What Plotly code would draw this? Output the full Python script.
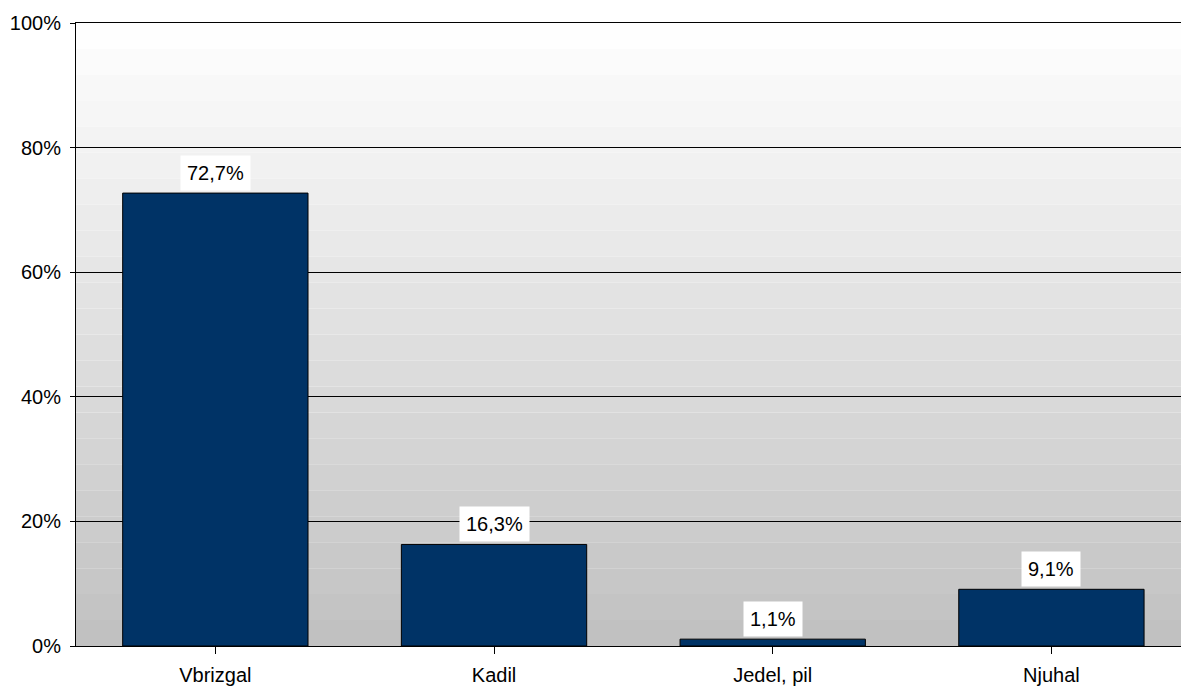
import plotly.graph_objects as go

categories = ["Vbrizgal", "Kadil", "Jedel, pil", "Njuhal"]
values = [72.7, 16.3, 1.1, 9.1]
y_ticks = [0, 20, 40, 60, 80, 100]

FONT = "Liberation Sans, Arial, sans-serif"

fig = go.Figure()
fig.add_trace(go.Bar(
    x=list(range(len(categories))),
    y=values,
    width=0.665,
    marker=dict(color="#003366", line=dict(color="#000000", width=1)),
    hoverinfo="skip",
))

# value labels with white boxes
for i, v in enumerate(values):
    fig.add_annotation(
        x=i, y=v, xref="x", yref="y",
        text=f"{v:.1f}%".replace(".", ","),
        showarrow=False, yanchor="bottom", yshift=2,
        bgcolor="#FFFFFF", borderpad=6,
        font=dict(family=FONT, size=20, color="#000000"),
    )

# banded gradient background (white at top to grey at bottom)
n_bands = 24
shapes = []
for k in range(n_bands):
    y0 = 100 * k / n_bands
    y1 = 100 * (k + 1) / n_bands
    t = (k + 0.5) / n_bands
    c = int(round(192 + (255 - 192) * t))
    shapes.append(dict(
        type="rect", xref="paper", yref="y", x0=0, x1=1, y0=y0, y1=y1,
        fillcolor=f"rgb({c},{c},{c})", line=dict(width=0), layer="below",
    ))

fig.update_layout(
    width=1181, height=689,
    margin=dict(l=76, r=0, t=23, b=43, autoexpand=False),
    paper_bgcolor="#FFFFFF",
    plot_bgcolor="#FFFFFF",
    showlegend=False,
    shapes=shapes,
    font=dict(family=FONT, size=20, color="#000000"),
    xaxis=dict(
        range=[-0.5, 3.465],
        tickmode="array",
        tickvals=list(range(len(categories))),
        ticktext=categories,
        tickson="boundaries",
        ticks="outside", ticklen=7, tickcolor="#000000", tickwidth=1,
        ticklabelstandoff=4,
        showline=True, mirror=True, linecolor="#000000", linewidth=1,
        showgrid=False, zeroline=False,
        automargin=False,
        fixedrange=True,
        tickfont=dict(family=FONT, size=20, color="#000000"),
    ),
    yaxis=dict(
        range=[0, 100],
        tickmode="array",
        tickvals=y_ticks,
        ticktext=[f"{t}%" for t in y_ticks],
        ticks="outside", ticklen=5, tickcolor="#000000", tickwidth=1,
        ticklabelstandoff=5,
        showline=True, linecolor="#000000", linewidth=1,
        showgrid=True, gridcolor="#000000", gridwidth=1,
        zeroline=False,
        automargin=False,
        fixedrange=True,
        tickfont=dict(family=FONT, size=20, color="#000000"),
    ),
)

fig.write_html(
    "out.html",
    config={"displayModeBar": False, "responsive": False},
    post_script="document.body.style.margin='0';document.body.style.overflow='hidden';",
)
